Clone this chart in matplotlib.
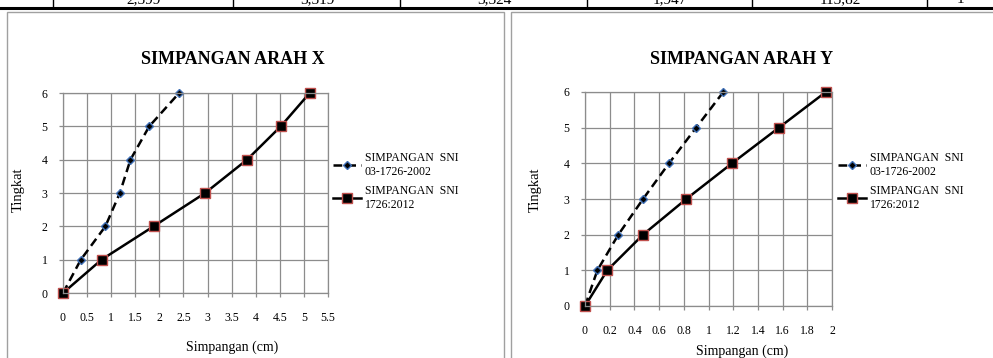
import matplotlib.pyplot as plt
from matplotlib.patches import Rectangle
from matplotlib.lines import Line2D

plt.rcParams['font.family'] = ['Liberation Serif', 'DejaVu Serif']

tingkat = [0, 1, 2, 3, 4, 5, 6]

# simpangan arah X (cm)
x_2002 = [0, 0.37, 0.88, 1.18, 1.40, 1.79, 2.41]
x_2012 = [0, 0.80, 1.88, 2.95, 3.82, 4.52, 5.12]

# simpangan arah Y (cm)
y_2002 = [0, 0.10, 0.27, 0.47, 0.68, 0.90, 1.12]
y_2012 = [0, 0.18, 0.47, 0.82, 1.19, 1.57, 1.95]

label_2002 = "SIMPANGAN  SNI\n03-1726-2002"
label_2012 = "SIMPANGAN  SNI\n1726:2012"

# potongan baris tabel di atas
tabel_teks = ["2,399", "3,319", "3,324", "1,947", "113,82", "1"]
tabel_pos = [144, 317, 494, 670, 840, 960]
tabel_garis = [53, 233, 400, 587, 752, 927]

W, H = 993, 358
fig = plt.figure(figsize=(W / 100, H / 100), dpi=100)


def px(x, y):
    return x / W, 1 - y / H


# table remnant
fig.add_artist(Line2D([0, 1], [1 - 8 / H, 1 - 8 / H], color='black', lw=2.2))
for gx in tabel_garis:
    fig.add_artist(Line2D([gx / W, gx / W], [1 - 8 / H, 1], color='black', lw=1))
for t, tx in zip(tabel_teks, tabel_pos):
    fig.text(tx / W, 1 - 3 / H, t, ha='center', va='baseline', fontsize=11)

# chart boxes
fig.add_artist(Rectangle(px(7, 365), 497 / W, 353 / H, fill=False, ec='#a0a0a0', lw=1))
fig.add_artist(Rectangle(px(511, 365), 490 / W, 353 / H, fill=False, ec='#a0a0a0', lw=1))


def chart(ax_box, xs1, xs2, xmax, xstep, xticklabels, title, title_xy, leg_xy, xlabel_xy, ylabel_xy):
    x0, y0, x1, y1 = ax_box
    l, b = px(x0, y1)
    ax = fig.add_axes([l, b, (x1 - x0) / W, (y1 - y0) / H])
    ax.plot(xs1, tingkat, ls=(0, (3.5, 2)), color='black', lw=1.8,
            marker='D', ms=4.5, mfc='black', mec='#3f6fb5', mew=1, label=label_2002)
    ax.plot(xs2, tingkat, ls='-', color='black', lw=1.8,
            marker='s', ms=7.5, mfc='black', mec='#c0504d', mew=1, label=label_2012)
    ax.set_xlim(0, xmax)
    ax.set_ylim(0, 6)
    ticks = [i * xstep for i in range(len(xticklabels))]
    ax.set_xticks(ticks)
    ax.set_xticklabels(xticklabels)
    ax.set_yticks(range(7))
    ax.grid(True, color='#8c8c8c', lw=0.9)
    for s in ax.spines.values():
        s.set_color('#8c8c8c')
        s.set_linewidth(0.9)
    ax.tick_params(colors='#8c8c8c', labelcolor='black', labelsize=8.5, length=3, width=0.9)
    ax.tick_params(axis='x', pad=11)
    ax.tick_params(axis='y', pad=8)
    for ln in ax.lines:
        ln.set_clip_on(False)
    fig.text(*px(*title_xy), title, ha='center', va='center', fontsize=13, fontweight='bold')
    fig.text(*px(*xlabel_xy), 'Simpangan (cm)', ha='center', va='center', fontsize=10)
    fig.text(*px(*ylabel_xy), 'Tingkat', ha='center', va='center', fontsize=10.5, rotation=90)
    ax.legend(loc='upper left', bbox_to_anchor=px(*leg_xy), bbox_transform=fig.transFigure,
              frameon=False, fontsize=8.5, handlelength=2.4, handletextpad=0.3,
              labelspacing=0.6, borderpad=0, borderaxespad=0)
    return ax


chart((63, 93, 328, 293), x_2002, x_2012, 5.5, 0.5,
      ['0', '0.5', '1', '1.5', '2', '2.5', '3', '3.5', '4', '4.5', '5', '5.5'],
      'SIMPANGAN ARAH X', (233, 59), (333, 152), (232, 347), (18, 190))

chart((585, 92, 832, 306), y_2002, y_2012, 2.0, 0.2,
      ['0', '0.2', '0.4', '0.6', '0.8', '1', '1.2', '1.4', '1.6', '1.8', '2'],
      'SIMPANGAN ARAH Y', (742, 59), (838, 152), (742, 351), (535, 190))

fig.savefig('out.png', dpi=100)
